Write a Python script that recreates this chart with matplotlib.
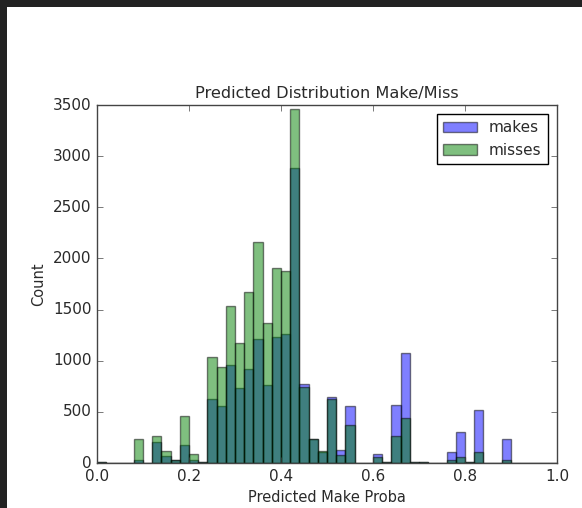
import numpy as np
import matplotlib
matplotlib.use("Agg")
import matplotlib.pyplot as plt
from matplotlib.patches import Rectangle

plt.style.use('classic')

# histogram bins of predicted make probability (0.02 wide)
bin_edges = np.linspace(0.0, 1.0, 51)

# counts per bin
makes = [5, 0, 0, 0, 25, 0, 207, 73, 30, 173,
         33, 10, 626, 560, 958, 737, 919, 1216, 766, 1232,
         1258, 2888, 770, 235, 105, 650, 130, 557, 0, 0,
         85, 10, 571, 1079, 10, 8, 0, 0, 104, 300,
         10, 522, 0, 0, 238, 0, 0, 0, 0, 0]
misses = [10, 0, 0, 0, 230, 0, 263, 113, 33, 456,
          87, 13, 1037, 939, 1532, 1177, 1669, 2165, 1372, 1910,
          1878, 3459, 740, 235, 121, 626, 75, 375, 0, 0,
          62, 10, 264, 440, 10, 8, 0, 0, 29, 55,
          10, 104, 0, 0, 29, 0, 0, 0, 0, 0]

txt = '#2a2a2a'

fig = plt.figure(figsize=(5.82, 5.08), dpi=100)
fig.patch.set_facecolor('#222222')
# white notebook cell area (screenshot has dark border top/left)
fig.patches.append(Rectangle((7 / 582, 0), 1, 1 - 7 / 508, transform=fig.transFigure,
                             facecolor='white', edgecolor='none', zorder=-10))

ax = fig.add_axes([97 / 582, 45 / 508, 460 / 582, 358 / 508])

ax.hist(bin_edges[:-1], bins=bin_edges, weights=makes, alpha=0.5, color='b', label='makes')
ax.hist(bin_edges[:-1], bins=bin_edges, weights=misses, alpha=0.5, color='g', label='misses')

ax.set_xlim(0, 1)
ax.set_ylim(0, 3500)
ax.set_xticks(np.arange(0, 1.01, 0.2))
ax.set_yticks(np.arange(0, 3501, 500))
ax.tick_params(labelsize=11, labelcolor=txt, color='#444444')
for s in ax.spines.values():
    s.set_color('#444444')

ax.set_title('Predicted Distribution Make/Miss', fontsize=11.6, color=txt)
ax.set_xlabel('Predicted Make Proba', fontsize=10.5, color=txt)
ax.set_ylabel('Count', fontsize=10.5, color=txt)
leg = ax.legend(loc='upper right', fontsize=11, handlelength=2.2, borderaxespad=0.6)
for t in leg.get_texts():
    t.set_color(txt)

fig.savefig('out.png', dpi=100, facecolor=fig.get_facecolor())
